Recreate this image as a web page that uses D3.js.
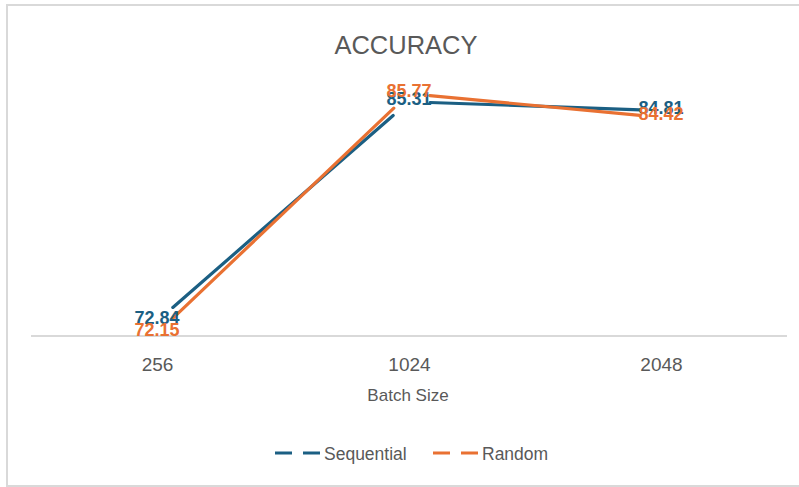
<!DOCTYPE html>
<html>
<head>
<meta charset="utf-8">
<script src="https://cdn.jsdelivr.net/npm/d3@7"></script>
<style>
  html, body { margin: 0; padding: 0; background: #fff; }
  svg { display: block; font-family: "Liberation Sans", Arial, sans-serif; }
</style>
</head>
<body>
<svg id="chart" width="799" height="487"></svg>
<script>
// Batch sizes on the x axis
const categories = ["256", "1024", "2048"];
// Accuracy per batch size
const sequential = [72.84, 85.31, 84.81];
const random = [72.15, 85.77, 84.42];
const seriesNames = ["Sequential", "Random"];
const yDomain = [72, 86];

const colors = { Sequential: "#1b5f83", Random: "#e97132" };
const textGrey = "#595959";
const axisGrey = "#d9d9d9";

const svg = d3.select("#chart");

// outer frame
svg.append("rect")
  .attr("x", 7).attr("y", 5)
  .attr("width", 800).attr("height", 481)
  .attr("fill", "#fff")
  .attr("stroke", axisGrey).attr("stroke-width", 2);

const x = d3.scalePoint().domain(categories).range([31, 787]).padding(0.5);
const y = d3.scaleLinear().domain(yDomain).range([336, 89.6]);

// title
svg.append("text")
  .attr("x", 406).attr("y", 54)
  .attr("text-anchor", "middle")
  .attr("font-size", 25.5)
  .attr("fill", textGrey)
  .text("ACCURACY");

// category axis
const xAxis = svg.append("g")
  .attr("transform", `translate(0,${y(yDomain[0])})`)
  .call(d3.axisBottom(x).tickSize(0).tickPadding(22));
xAxis.select(".domain")
  .attr("d", `M31,0H787`)
  .attr("stroke", axisGrey).attr("stroke-width", 2);
xAxis.selectAll(".tick text")
  .attr("font-size", 19)
  .attr("font-family", "Liberation Sans, Arial, sans-serif")
  .attr("fill", textGrey);

// axis title
svg.append("text")
  .attr("x", 408).attr("y", 401)
  .attr("text-anchor", "middle")
  .attr("font-size", 17)
  .attr("fill", textGrey)
  .text("Batch Size");

const series = [
  { name: seriesNames[0], values: sequential },
  { name: seriesNames[1], values: random }
];

// segments are trimmed near each point so the data labels stay readable
const gap = 21;
function trimmedSegments(values) {
  const pts = values.map((v, i) => [x(categories[i]), y(v)]);
  const segs = [];
  for (let i = 0; i < pts.length - 1; i++) {
    const [x0, y0] = pts[i], [x1, y1] = pts[i + 1];
    const len = Math.hypot(x1 - x0, y1 - y0);
    const ux = (x1 - x0) / len, uy = (y1 - y0) / len;
    segs.push([[x0 + ux * gap, y0 + uy * gap], [x1 - ux * gap, y1 - uy * gap]]);
  }
  return segs;
}

const line = d3.line();
series.forEach(s => {
  svg.append("g").selectAll("path")
    .data(trimmedSegments(s.values))
    .join("path")
    .attr("d", d => line(d))
    .attr("fill", "none")
    .attr("stroke", colors[s.name])
    .attr("stroke-width", 3.2)
    .attr("stroke-linecap", "round");
});

// data labels centred on the points
series.forEach(s => {
  svg.append("g").selectAll("text")
    .data(s.values)
    .join("text")
    .attr("x", (d, i) => x(categories[i]))
    .attr("y", d => y(d) + 3)
    .attr("text-anchor", "middle")
    .attr("font-size", 18)
    .attr("font-weight", "bold")
    .attr("fill", colors[s.name])
    .text(d => d.toFixed(2));
});

// legend
const legendItems = [
  { name: seriesNames[0], x: 275 },
  { name: seriesNames[1], x: 433 }
];
const lg = svg.append("g");
legendItems.forEach(it => {
  const g = lg.append("g").attr("transform", `translate(${it.x},453)`);
  g.append("line")
    .attr("x1", 0).attr("x2", 46).attr("y1", 0).attr("y2", 0)
    .attr("stroke", colors[it.name])
    .attr("stroke-width", 3.2)
    .attr("stroke-dasharray", "17,11");
  g.append("text")
    .attr("x", 49).attr("y", 6.5)
    .attr("font-size", 17.5)
    .attr("fill", textGrey)
    .text(it.name);
});
</script>
</body>
</html>
